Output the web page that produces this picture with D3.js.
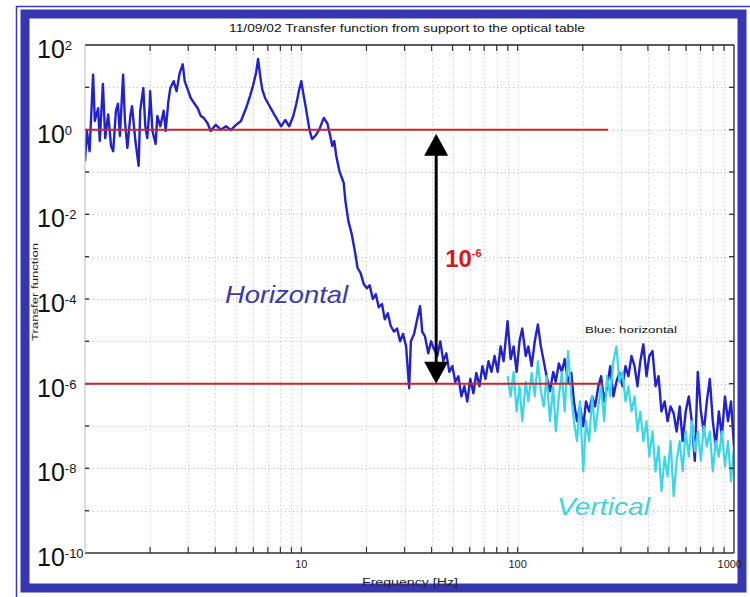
<!DOCTYPE html>
<html><head><meta charset="utf-8">
<script src="https://cdn.jsdelivr.net/npm/d3@7"></script>
<style>body{margin:0;background:#fff}svg{display:block}</style>
</head><body>
<svg id="chart" width="750" height="597"></svg>
<script>
// ---------- data ----------
const titleText = "11/09/02 Transfer function from support to the optical table";
const xLabelText = "Frequency [Hz]";
const yLabelText = "Transfer function";
const legendNote = "Blue: horizontal";

const horizFreq = [1.00,1.02,1.05,1.09,1.11,1.15,1.17,1.21,1.24,1.28,1.32,1.35,1.39,1.42,1.45,1.50,1.53,1.57,1.62,1.65,1.71,1.77,1.80,1.86,1.90,1.94,1.99,2.00,2.05,2.12,2.16,2.23,2.31,2.36,2.43,2.48,2.57,2.65,2.74,2.83,2.89,2.98,3.08,3.21,3.32,3.43,3.54,3.69,3.81,4.02,4.25,4.48,4.72,4.99,5.26,5.55,5.79,5.98,6.18,6.31,6.45,6.59,6.80,7.03,7.25,7.49,7.81,8.07,8.43,8.79,9.18,9.48,9.79,10.0,10.2,10.5,10.9,11.2,11.6,12.1,12.7,13.2,13.6,13.9,14.2,14.5,15.0,15.7,16.0,16.5,17.1,17.7,18.2,18.8,19.4,20.1,20.7,21.4,22.1,22.8,23.6,24.3,25.1,25.9,26.8,27.7,28.6,29.5,30.5,31.5,32.1,33.2,34.3,35.4,36.2,37.3,38.6,39.8,41.1,42.5,43.9,45.3,46.8,48.3,49.9,51.5,53.2,54.9,56.7,58.5,60.4,62.4,64.4,66.6,68.7,71.0,73.3,75.7,78.2,80.8,83.4,86.1,89.8,92.8,95.8,98.9,102,105,109,112,116,120,124,128,132,136,141,146,150,155,160,165,171,177,182,188,194,201,207,214,221,228,236,243,251,259,268,277,286,295,305,315,325,336,347,358,369,381,394,406,420,434,448,462,478,493,509,526,543,561,579,598,618,638,659,680,703,725,749,773,798,824,851,879,908,938,969,1000];
const horizMag = [0.18,0.93,0.31,20,1.6,3.2,0.54,12,0.63,2.3,0.41,0.31,2.8,4.1,0.71,20,1.6,0.37,2.1,3.6,0.54,0.14,2.8,9.6,1.2,0.63,3.6,8.1,0.93,0.46,2.1,1.2,2.8,0.93,4.8,9.6,14,8.1,22,35,14,9.1,5.6,4.1,3.2,2.1,1.9,1.4,0.93,1.3,1.0,1.2,0.98,1.3,1.6,3.2,6.2,11,22,47,19,9.1,5.6,4.1,3.1,2.3,1.6,1.2,1.7,1.2,2.1,4.1,9.1,14,7.4,3.2,1.0,0.60,0.71,1.0,1.9,1.4,0.71,0.41,0.54,0.24,0.105,0.055,0.020,0.0069,0.0034,0.0013,5.4e-4,4.1e-4,2.3e-4,1.8e-4,2.1e-4,1.0e-4,1.3e-4,6.4e-5,7.6e-5,3.3e-5,4.6e-5,2.3e-5,1.7e-5,2.0e-5,1.0e-5,1.5e-5,7.6e-6,7.8e-7,1.0e-5,1.5e-5,3.3e-5,6.8e-5,1.7e-5,1.3e-5,5.2e-6,1.0e-5,6.5e-6,4.5e-6,1.0e-5,3.4e-6,5.2e-6,1.9e-6,2.6e-6,1.1e-6,1.5e-6,5.0e-7,8.7e-7,3.8e-7,1.3e-6,5.9e-7,1.8e-6,8.7e-7,2.6e-6,1.3e-6,3.4e-6,1.9e-6,4.5e-6,1.9e-6,7.6e-6,3.4e-6,3.0e-5,3.8e-6,7.6e-6,1.9e-6,1.0e-5,2.0e-5,4.5e-6,7.6e-6,2.6e-6,1.0e-5,2.5e-5,7.6e-6,3.4e-6,1.5e-6,6.6e-7,1.9e-6,1.1e-6,3.0e-6,1.9e-6,3.8e-6,1.1e-6,1.8e-6,3.8e-7,1.3e-7,2.9e-7,9.8e-8,3.8e-7,2.2e-7,5.0e-7,2.9e-7,8.7e-7,1.5e-6,3.8e-7,8.7e-7,2.6e-6,5.0e-7,1.1e-6,1.8e-6,8.7e-7,2.6e-6,1.5e-6,4.5e-6,2.6e-6,8.7e-7,3.4e-6,8.5e-6,1.5e-6,4.5e-6,5.9e-6,8.7e-7,1.5e-6,2.2e-7,3.8e-7,1.3e-7,2.9e-7,2.0e-7,7.4e-8,2.9e-7,4.4e-8,2.2e-7,5.0e-7,1.3e-7,1.5e-8,1.9e-6,2.2e-7,7.4e-8,3.8e-7,1.3e-6,1.3e-7,3.3e-8,2.2e-7,5.8e-8,5.0e-7,1.3e-7,3.8e-7,3.3e-8];

const vertFreq = [89.8,92.8,95.8,98.9,102,105,109,112,116,120,124,128,132,136,141,146,150,155,160,165,171,177,182,188,194,201,207,214,221,228,236,243,251,259,268,277,286,295,305,315,325,336,347,358,369,381,394,406,420,434,448,462,478,493,509,526,543,561,579,598,618,638,659,680,703,725,749,773,798,824,851,879,908,938,969,1000];
const vertMag = [1.5e-6,5.0e-7,1.9e-6,2.2e-7,8.7e-7,1.3e-7,1.1e-6,3.8e-7,1.8e-6,5.0e-7,3.4e-6,6.6e-7,2.9e-7,1.5e-6,1.3e-7,8.7e-7,7.5e-8,5.0e-7,1.9e-6,2.2e-7,5.9e-6,5.0e-7,1.3e-7,4.4e-8,3.8e-7,8.5e-9,1.3e-7,4.4e-8,5.0e-7,7.5e-8,2.9e-7,8.7e-7,1.3e-7,1.5e-6,5.0e-7,3.4e-6,7.6e-6,1.1e-6,1.9e-6,3.8e-7,8.7e-7,2.2e-7,5.0e-7,7.5e-8,2.2e-7,4.4e-8,1.3e-7,1.9e-8,7.5e-8,8.5e-9,3.3e-8,2.9e-9,1.9e-8,6.5e-9,4.4e-8,2.2e-9,1.5e-8,4.4e-8,8.5e-9,7.5e-8,1.9e-8,1.3e-7,2.5e-8,7.5e-8,1.5e-8,9.8e-8,3.3e-8,7.5e-8,8.5e-9,4.4e-8,1.9e-8,7.5e-8,1.1e-8,4.4e-8,4.9e-9,3.3e-8];

const refLevels = [1, 1e-6];          // red reference lines
const refEndFreq = [262, 248];        // where each red line stops
const arrowFreq = 42;                 // double arrow position
const ratioBase = "10", ratioExp = "-6";
const yTickExps = [2, 0, -2, -4, -6, -8, -10];
const xTickLabels = ["10", "100", "1000"];
const xDomain = [1, 1000];
const yDomain = [1e-10, 1e2];

// ---------- layout ----------
const svg = d3.select("#chart");
const M = {left: 85, right: 734, top: 45, bottom: 553};
const x = d3.scaleLog().domain(xDomain).range([M.left, M.right]);
const y = d3.scaleLog().domain(yDomain).range([M.bottom, M.top]);
const FONT = "'Liberation Sans', Arial, Helvetica, sans-serif";

// frame
svg.append("rect").attr("x", 0).attr("y", 0).attr("width", 750).attr("height", 597).attr("fill", "#fff");
svg.append("path").attr("d", "M16.5,800 V6.5 H800").attr("fill", "none").attr("stroke", "#3a3ab4").attr("stroke-width", 1.5);
svg.append("rect").attr("x", 25).attr("y", 14).attr("width", 717).attr("height", 574)
  .attr("fill", "none").attr("stroke", "#3636b0").attr("stroke-width", 9);

// grid
const xMinor = [];
for (let d = 1; d < 1000; d *= 10) for (let k = 1; k <= 9; k++) xMinor.push(d * k);
xMinor.push(1000);
const yDecades = d3.range(-10, 3).map(e => Math.pow(10, e));
const grid = svg.append("g").attr("stroke", "#bdbdbd").attr("stroke-width", 1).attr("stroke-dasharray", "1,3");
grid.selectAll("line.v").data(xMinor.filter(v => v > 1 && v < 1000)).join("line")
  .attr("x1", d => Math.round(x(d)) + 0.5).attr("x2", d => Math.round(x(d)) + 0.5)
  .attr("y1", M.top).attr("y2", M.bottom);
grid.selectAll("line.h").data(yDecades.filter(v => v > 1e-10 && v < 1e2)).join("line")
  .attr("y1", d => Math.round(y(d)) + 0.5).attr("y2", d => Math.round(y(d)) + 0.5)
  .attr("x1", M.left).attr("x2", M.right);

// clip
svg.append("clipPath").attr("id", "plot").append("rect")
  .attr("x", M.left).attr("y", M.top).attr("width", M.right - M.left).attr("height", M.bottom - M.top);

const line = d3.line().x(d => x(d[0])).y(d => y(d[1]));
const horiz = horizFreq.map((f, i) => [f, horizMag[i]]);
const vert = vertFreq.map((f, i) => [f, vertMag[i]]);
const data = svg.append("g").attr("clip-path", "url(#plot)");
data.append("path").datum(horiz).attr("d", line).attr("fill", "none")
  .attr("stroke", "#2222cc").attr("stroke-width", 2.4).attr("stroke-linejoin", "round");
data.append("path").datum(vert).attr("d", line).attr("fill", "none")
  .attr("stroke", "#3cd6e6").attr("stroke-width", 2.2).attr("stroke-linejoin", "round");

// axes box + ticks
const axG = svg.append("g");
axG.append("line").attr("x1", M.left).attr("x2", M.right).attr("y1", M.top).attr("y2", M.top).attr("stroke", "#222").attr("stroke-width", 1.6);
axG.append("line").attr("x1", M.left).attr("x2", M.right).attr("y1", M.bottom).attr("y2", M.bottom).attr("stroke", "#333").attr("stroke-width", 1.6);
axG.append("line").attr("x1", M.right).attr("x2", M.right).attr("y1", M.top).attr("y2", M.bottom).attr("stroke", "#333").attr("stroke-width", 1.4);
axG.append("line").attr("x1", M.left).attr("x2", M.left).attr("y1", M.top).attr("y2", M.bottom).attr("stroke", "#bbb").attr("stroke-width", 1);

const xt = xMinor.filter(v => v > 1 && v < 1000);
axG.selectAll("line.bt").data(xt).join("line")
  .attr("x1", d => x(d)).attr("x2", d => x(d)).attr("y1", M.bottom).attr("y2", M.bottom - 6)
  .attr("stroke", "#333").attr("stroke-width", 1.2);
axG.selectAll("line.tt").data(xt).join("line")
  .attr("x1", d => x(d)).attr("x2", d => x(d)).attr("y1", M.top).attr("y2", M.top + 6)
  .attr("stroke", "#333").attr("stroke-width", 1.2);
const yt = yDecades.filter(v => v > 1e-10 && v < 1e2);
axG.selectAll("line.lt").data(yt).join("line")
  .attr("x1", M.left).attr("x2", M.left + 4).attr("y1", d => y(d)).attr("y2", d => y(d))
  .attr("stroke", "#333").attr("stroke-width", 1.4);
axG.selectAll("line.rt").data(yt).join("line")
  .attr("x1", M.right).attr("x2", M.right - 5).attr("y1", d => y(d)).attr("y2", d => y(d))
  .attr("stroke", "#333").attr("stroke-width", 1.4);

// y tick labels
const yl = svg.append("g").attr("font-family", FONT).attr("fill", "#111");
yTickExps.forEach(e => {
  const t = yl.append("text").attr("x", 37).attr("y", y(Math.pow(10, e)) + 13).attr("font-size", 25);
  t.append("tspan").text("10");
  t.append("tspan").attr("font-size", 13).attr("dy", -8).text(String(e));
});
// x tick labels
svg.append("g").attr("font-family", FONT).attr("font-size", 11).attr("fill", "#222")
  .selectAll("text").data(xTickLabels).join("text")
  .attr("x", d => x(+d)).attr("y", 568).attr("text-anchor", d => +d === 1000 ? "end" : "middle")
  .attr("dx", d => +d === 1000 ? 8 : 0)
  .text(d => d);

// title & axis labels
svg.append("text").attr("x", 407).attr("y", 32).attr("text-anchor", "middle")
  .attr("font-family", FONT).attr("font-size", 10).attr("fill", "#111")
  .attr("textLength", 356).attr("lengthAdjust", "spacingAndGlyphs").text(titleText);
svg.append("text").attr("x", 410).attr("y", 586).attr("text-anchor", "middle")
  .attr("font-family", FONT).attr("font-size", 10).attr("fill", "#222")
  .attr("textLength", 96).attr("lengthAdjust", "spacingAndGlyphs").text(xLabelText);
svg.append("text").attr("transform", "translate(38,292) rotate(-90)").attr("text-anchor", "middle")
  .attr("font-family", FONT).attr("font-size", 9).attr("fill", "#222")
  .attr("textLength", 98).attr("lengthAdjust", "spacingAndGlyphs").text(yLabelText);

// red reference lines
svg.append("g").selectAll("line").data(refLevels).join("line")
  .attr("x1", M.left).attr("x2", (d, i) => x(refEndFreq[i]))
  .attr("y1", d => y(d)).attr("y2", d => y(d))
  .attr("stroke", "#c8262a").attr("stroke-width", 2);

// double arrow
const ax = x(arrowFreq), ayTop = y(refLevels[0]) + 4, ayBot = y(refLevels[1]);
const ah = 22, aw = 12;
svg.append("line").attr("x1", ax).attr("x2", ax).attr("y1", ayTop + ah - 2).attr("y2", ayBot - ah + 2)
  .attr("stroke", "#000").attr("stroke-width", 3);
svg.append("path").attr("d", `M${ax},${ayTop} L${ax - aw},${ayTop + ah} L${ax + aw},${ayTop + ah} Z`).attr("fill", "#000");
svg.append("path").attr("d", `M${ax},${ayBot} L${ax - aw},${ayBot - ah} L${ax + aw},${ayBot - ah} Z`).attr("fill", "#000");

const rt = svg.append("text").attr("x", ax + 9).attr("y", (ayTop + ayBot) / 2 + 8)
  .attr("font-family", FONT).attr("font-weight", "bold").attr("font-size", 24).attr("fill", "#d81818");
rt.append("tspan").text(ratioBase);
rt.append("tspan").attr("font-size", 11).attr("dy", -10).text(ratioExp);

// series labels
svg.append("text").attr("x", 225).attr("y", 303).attr("font-family", FONT).attr("font-style", "italic")
  .attr("font-size", 24).attr("fill", "#3a3aaa").attr("textLength", 123).attr("lengthAdjust", "spacingAndGlyphs").text("Horizontal");
svg.append("text").attr("x", 557).attr("y", 515).attr("font-family", FONT).attr("font-style", "italic")
  .attr("font-size", 24).attr("fill", "#40d2e2").attr("textLength", 93).attr("lengthAdjust", "spacingAndGlyphs").text("Vertical");
svg.append("text").attr("x", 585).attr("y", 333).attr("font-family", FONT)
  .attr("font-size", 9).attr("fill", "#111").attr("textLength", 92).attr("lengthAdjust", "spacingAndGlyphs").text(legendNote);
</script>
</body></html>
